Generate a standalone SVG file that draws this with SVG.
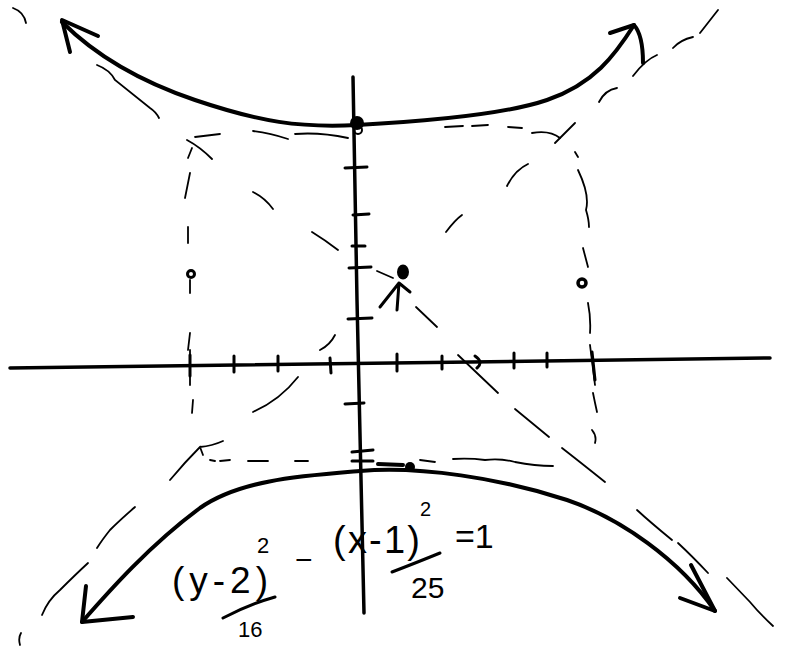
<svg xmlns="http://www.w3.org/2000/svg" width="785" height="655" viewBox="0 0 785 655">
<style>
.bg{fill:#fff}
.thick{fill:none;stroke:#000;stroke-width:4;stroke-linecap:round;stroke-linejoin:round}
.axis{fill:none;stroke:#000;stroke-width:3.5;stroke-linecap:round}
.tick{fill:none;stroke:#000;stroke-width:3;stroke-linecap:round}
.dash{fill:none;stroke:#000;stroke-width:1.8;stroke-linecap:round}
.eq{font-family:"Liberation Sans","DejaVu Sans",sans-serif;fill:#000}
</style>
<rect class="bg" x="0" y="0" width="785" height="655"/>
<g id="axes">
<path class="axis" d="M10,368 L770,358"/>
<path class="axis" d="M353,77 L357,300 L364,613"/>
</g>
<g id="ticks">
<path class="tick" d="M234,356 L234,372 M278,356 L278,371 M330,358 L331,373 M397,354 L397,371 M442,356 L442,369 M514,353 L514,368 M547,353 L547,367 M190,355 L190,376 M592,352 L595,380 M475,356 Q484,362 477,368"/>
<path class="tick" d="M345,168 L367,167 M353,215 L369,214 M352,246 L365,246 M349,268 L371,267 M348,319 L372,318 M345,404 L364,403 M352,452 L373,450 M352,461 L373,461"/>
</g>
<g id="dashed-box">
<path class="dash" d="M195,137 L220,134 M253,131 Q270,133 288,139 M295,134 Q320,132 348,138 M445,127 L463,126 M472,126 L488,125 M508,127 L522,128 M532,133 Q550,130 560,138"/>
<path class="dash" d="M188,158 L192,148 M190,173 L185,198 M188,227 L188,243 M190,280 L190,293 M190,333 L188,350 M190,350 L190,385 M193,400 L192,413"/>
<path class="dash" d="M575,152 L578,157 M578,170 Q590,195 586,210 Q589,220 589,227 M583,248 L588,267 M588,303 Q591,318 590,333 M590,345 L595,385 M593,393 Q595,403 597,412 M592,430 Q597,436 595,443"/>
<path class="dash" d="M210,460 L215,461 M220,461 L230,460 M248,461 L268,461 M295,461 L308,461 M420,460 L435,462 M453,459 Q470,458 485,460 Q500,458 515,462 Q535,466 553,466"/>
</g>
<g id="asymptotes">
<path class="dash" d="M97,65 Q110,70 115,80 L150,108 Q156,112 159,118 M187,140 Q200,147 212,159 M253,192 Q265,198 273,209 M312,232 Q325,240 338,250 M377,271 L393,278 M416,307 L437,327 M458,355 L498,393 M515,409 L549,437 M562,448 Q580,462 605,482 M637,510 Q650,522 672,540 M678,543 Q692,556 708,573 M727,578 L750,602 Q760,614 773,626"/>
<path class="dash" d="M700,33 L718,10 M673,48 Q680,40 693,37 M633,76 Q645,60 657,55 M599,102 Q605,90 617,88 M555,143 L575,123 M507,186 Q515,170 528,164 M446,232 Q455,220 462,215 M320,350 Q330,345 335,335 M253,412 Q280,400 298,377 M170,480 Q185,462 200,447 L203,455 M200,447 Q212,446 223,441 M135,507 Q120,520 110,530 Q102,540 97,548 M88,563 Q75,575 60,590 Q48,600 42,615 M21,633 Q18,638 20,645 M13,8 Q24,12 26,23"/>
</g>
<g id="upper-branch">
<path class="thick" d="M62,22 C90,50 130,78 195,100 S300,128 357,125 S500,116 547,100 S615,55 634,25"/>
<path class="thick" d="M98,36 L62,20 L70,52"/>
<path class="thick" d="M610,33 L634,25 Q643,35 643,63"/>
</g>
<g id="lower-branch">
<path class="thick" d="M82,622 C110,590 150,545 200,508 C240,480 300,476 360,471 C420,466 500,478 567,500 C620,518 680,560 715,611"/>
<path class="thick" d="M86,586 L82,622 L133,617"/>
<path class="thick" d="M691,565 L715,611 L680,598"/>
<path class="thick" d="M378,464 L403,465"/>
</g>
<g id="points">
<circle cx="357" cy="123" r="7" fill="#000"/>
<circle cx="358" cy="130" r="4" fill="none" stroke="#000" stroke-width="2"/>
<ellipse cx="403" cy="272" rx="6" ry="7.5" fill="#000"/>
<path class="tick" d="M399,283 L380,307 M399,283 L397,310 M399,283 L410,292"/>
<circle cx="191" cy="274" r="3.5" fill="none" stroke="#000" stroke-width="3"/>
<circle cx="582" cy="283" r="4" fill="none" stroke="#000" stroke-width="3.5"/>
<circle cx="410" cy="467" r="5" fill="#000"/>
</g>
<g id="equation">
<text class="eq" x="172" y="593" font-size="37" textLength="96">(y-2)</text>
<text class="eq" x="257" y="553" font-size="22">2</text>
<path class="tick" d="M223,618 Q250,604 275,597"/>
<text class="eq" x="238" y="637" font-size="22">16</text>
<text class="eq" x="295" y="570" font-size="30">−</text>
<text class="eq" x="333" y="553" font-size="38" textLength="87">(x-1)</text>
<text class="eq" x="420" y="516" font-size="20">2</text>
<path class="tick" d="M392,572 Q418,562 440,553"/>
<text class="eq" x="411" y="598" font-size="30">25</text>
<text class="eq" x="455" y="548" font-size="34">=1</text>
</g>
</svg>
